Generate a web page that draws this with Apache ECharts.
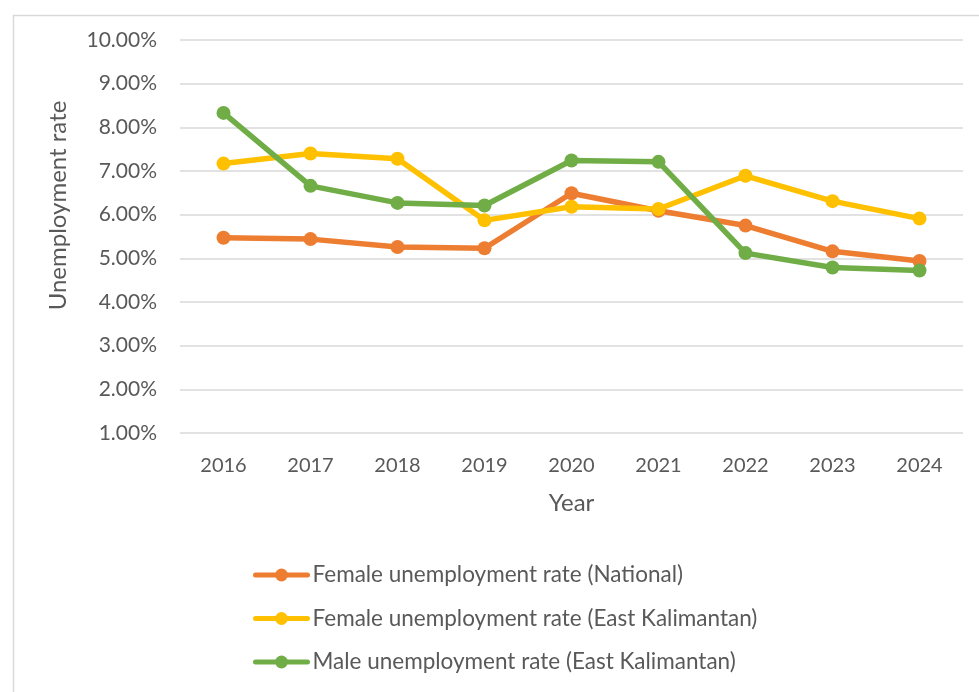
<!DOCTYPE html>
<html>
<head>
<meta charset="utf-8">
<script src="https://cdn.jsdelivr.net/npm/echarts@6/dist/echarts.min.js"></script>
<style>
  html, body { margin: 0; padding: 0; background: #ffffff; }
  #chart { width: 979px; height: 692px; }
</style>
</head>
<body>
<div id="chart"></div>
<script>
// Years on the category axis
const years = ['2016', '2017', '2018', '2019', '2020', '2021', '2022', '2023', '2024'];

// Unemployment rates, in percent
const femaleNational = [5.47, 5.44, 5.26, 5.23, 6.49, 6.09, 5.75, 5.16, 4.94];
const femaleEastKalimantan = [7.17, 7.40, 7.28, 5.87, 6.18, 6.13, 6.89, 6.31, 5.91];
const maleEastKalimantan = [8.33, 6.66, 6.27, 6.21, 7.24, 7.21, 5.12, 4.79, 4.72];

const seriesNames = [
  'Female unemployment rate (National)',
  'Female unemployment rate (East Kalimantan)',
  'Male unemployment rate (East Kalimantan)'
];

const FONT = 'Lato';
const TEXT = '#595959';

function lineSeries(name, data, color) {
  return {
    name: name,
    type: 'line',
    data: data,
    symbol: 'circle',
    symbolSize: 14,
    itemStyle: { color: color },
    lineStyle: { color: color, width: 5.5 },
    emphasis: { disabled: true }
  };
}

const chart = echarts.init(document.getElementById('chart'), null, { renderer: 'canvas' });

chart.setOption({
  animation: false,
  backgroundColor: '#ffffff',
  textStyle: { fontFamily: FONT, color: TEXT },
  graphic: [{
    type: 'rect',
    left: 11,
    top: 13,
    shape: { width: 1000, height: 720 },
    style: { fill: 'none', stroke: '#D9D9D9', lineWidth: 1.5 },
    silent: true,
    z: -1
  }],
  grid: { left: 180, top: 40, right: 16, height: 393, containLabel: false },
  xAxis: {
    type: 'category',
    data: years,
    boundaryGap: true,
    axisLine: { show: false },
    axisTick: { show: false },
    axisLabel: { fontFamily: FONT, fontSize: 20, color: TEXT, margin: 23 },
    name: 'Year',
    nameLocation: 'middle',
    nameGap: 58,
    nameTextStyle: { fontFamily: FONT, fontSize: 24, color: TEXT }
  },
  yAxis: {
    type: 'value',
    min: 1,
    max: 10,
    interval: 1,
    axisLine: { show: false },
    axisTick: { show: false },
    splitLine: { lineStyle: { color: '#D9D9D9', width: 1.5 } },
    axisLabel: {
      fontFamily: FONT, fontSize: 21, color: TEXT, margin: 23,
      formatter: v => v.toFixed(2) + '%'
    },
    name: 'Unemployment rate',
    nameLocation: 'middle',
    nameRotate: 90,
    nameGap: 110,
    nameTextStyle: { fontFamily: FONT, fontSize: 24, color: TEXT, padding: [0, 0, 0, 62] }
  },
  legend: {
    orient: 'vertical',
    left: 248,
    top: 558,
    itemWidth: 52,
    itemHeight: 16,
    itemGap: 19.5,
    data: seriesNames,
    lineStyle: { width: 5, cap: 'round' },
    textStyle: { fontFamily: FONT, fontSize: 22.5, color: TEXT, lineHeight: 24 }
  },
  series: [
    lineSeries(seriesNames[0], femaleNational, '#ED7D31'),
    lineSeries(seriesNames[1], femaleEastKalimantan, '#FFC000'),
    lineSeries(seriesNames[2], maleEastKalimantan, '#70AD47')
  ]
});
</script>
</body>
</html>
